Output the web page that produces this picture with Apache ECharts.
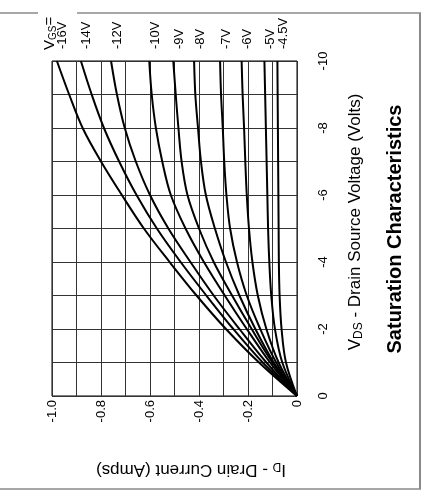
<!DOCTYPE html>
<html>
<head>
<meta charset="utf-8">
<script src="https://cdn.jsdelivr.net/npm/echarts@6/dist/echarts.min.js"></script>
<style>
html,body{margin:0;padding:0;background:#fff;}
#c{width:422px;height:494px;}
</style>
</head>
<body>
<div id="c"></div>
<script>
// Drain-source voltage samples (Volts)
const vds = [0, -1, -2, -3, -4, -5, -6, -7, -8, -9, -10];
// Gate voltage labels
const vgsLabels = ['-16V', '-14V', '-12V', '-10V', '-9V', '-8V', '-7V', '-6V', '-5V', '-4.5V'];
// Drain current (Amps) per gate voltage, at each vds sample
const id16 = [0, -0.155, -0.29, -0.41, -0.52, -0.625, -0.715, -0.80, -0.875, -0.93, -0.98];
const id14 = [0, -0.14, -0.26, -0.37, -0.475, -0.572, -0.655, -0.726, -0.788, -0.838, -0.882];
const id12 = [0, -0.125, -0.235, -0.34, -0.435, -0.525, -0.600, -0.658, -0.703, -0.735, -0.759];
const id10 = [0, -0.11, -0.205, -0.295, -0.38, -0.455, -0.515, -0.550, -0.576, -0.593, -0.603];
const id9 = [0, -0.10, -0.185, -0.265, -0.34, -0.400, -0.447, -0.471, -0.484, -0.495, -0.505];
const id8 = [0, -0.095, -0.17, -0.235, -0.29, -0.335, -0.372, -0.392, -0.404, -0.415, -0.420];
const id7 = [0, -0.085, -0.15, -0.205, -0.245, -0.273, -0.288, -0.297, -0.303, -0.310, -0.314];
const id6 = [0, -0.075, -0.125, -0.16, -0.182, -0.196, -0.205, -0.211, -0.216, -0.222, -0.226];
const id5 = [0, -0.06, -0.09, -0.105, -0.113, -0.118, -0.121, -0.124, -0.127, -0.130, -0.133];
const id45 = [0, -0.045, -0.063, -0.071, -0.074, -0.075, -0.076, -0.077, -0.078, -0.079, -0.080];
// Tick values
const idTicks = [-1.0, -0.8, -0.6, -0.4, -0.2, 0];
const vdsTicks = [0, -2, -4, -6, -8, -10];

const curves = [id16, id14, id12, id10, id9, id8, id7, id6, id5, id45];
const FONT = '"Liberation Sans", Arial, Helvetica, sans-serif';

const chart = echarts.init(document.getElementById('c'));

const series = curves.map((arr, i) => ({
  type: 'line',
  name: vgsLabels[i],
  data: arr.map((v, k) => [v, vds[k]]),
  showSymbol: false,
  smooth: 0.35,
  lineStyle: { color: '#000', width: 2 },
  silent: true,
  animation: false
}));

chart.setOption({
  animation: false,
  grid: { left: 52, right: 125, top: 61, bottom: 98, show: true, borderColor: '#000', borderWidth: 1, backgroundColor: 'transparent' },
  xAxis: {
    type: 'value', min: -1, max: 0, interval: 0.1, position: 'bottom',
    axisLine: { show: false }, axisTick: { show: false },
    splitLine: { show: true, lineStyle: { color: '#333', width: 1 } },
    axisLabel: {
      rotate: 90, margin: 4, fontSize: 13, color: '#000', fontFamily: FONT,
      formatter: v => {
        const r = Math.round(v * 10) / 10;
        if (!idTicks.some(t => Math.abs(t - r) < 1e-6)) return '';
        return r === 0 ? '0' : r.toFixed(1);
      }
    }
  },
  yAxis: {
    type: 'value', min: -10, max: 0, interval: 1, inverse: true, position: 'right',
    axisLine: { show: false }, axisTick: { show: false },
    splitLine: { show: true, lineStyle: { color: '#333', width: 1 } },
    axisLabel: {
      rotate: 90, margin: 20, fontSize: 13, color: '#000', fontFamily: FONT,
      formatter: v => vdsTicks.indexOf(Math.round(v)) >= 0 ? String(Math.round(v)) : ''
    }
  },
  series: series
});

// Curve-end labels placed through the chart's own scale
const endLabels = curves.map((arr, i) => {
  const p = chart.convertToPixel({ gridIndex: 0 }, [arr[arr.length - 1], vds[vds.length - 1]]);
  return {
    type: 'text', x: p[0] + 6, y: p[1] - 12, rotation: Math.PI / 2, silent: true,
    style: { text: vgsLabels[i], font: '13px ' + FONT, fill: '#000', align: 'left', verticalAlign: 'middle' }
  };
});

const frameColor = '#8a8a8a';
chart.setOption({
  graphic: [
    // frame
    { type: 'line', shape: { x1: 0, y1: 13, x2: 38, y2: 13 }, style: { stroke: frameColor, lineWidth: 1.5 }, silent: true },
    { type: 'line', shape: { x1: 77, y1: 13, x2: 421, y2: 13 }, style: { stroke: frameColor, lineWidth: 1.5 }, silent: true },
    { type: 'line', shape: { x1: 420, y1: 13, x2: 420, y2: 489 }, style: { stroke: frameColor, lineWidth: 2 }, silent: true },
    { type: 'line', shape: { x1: 0, y1: 489, x2: 421, y2: 489 }, style: { stroke: frameColor, lineWidth: 1.5 }, silent: true },
    // VGS= label
    {
      type: 'text', x: 50, y: 50, rotation: Math.PI / 2, silent: true,
      style: {
        text: '{v|V}{s|GS}{v|=}', align: 'left', verticalAlign: 'middle', fill: '#000',
        rich: { v: { fontSize: 15, fontFamily: FONT, fill: '#000' }, s: { fontSize: 10, fontFamily: FONT, fill: '#000', padding: [6, 0, 0, 0] } }
      }
    },
    ...endLabels,
    // x axis name (upside down)
    {
      type: 'text', x: 191, y: 470, rotation: Math.PI, silent: true,
      style: {
        text: '{v|I}{s|D}{v| - Drain Current (Amps)}', align: 'center', verticalAlign: 'middle', fill: '#000',
        rich: { v: { fontSize: 17, fontFamily: FONT, fill: '#000' }, s: { fontSize: 12, fontFamily: FONT, fill: '#000', padding: [7, 0, 0, 0] } }
      }
    },
    // y axis name
    {
      type: 'text', x: 355, y: 222, rotation: Math.PI / 2, silent: true,
      style: {
        text: '{v|V}{s|DS}{v| - Drain Source Voltage (Volts)}', align: 'center', verticalAlign: 'middle', fill: '#000',
        rich: { v: { fontSize: 17, fontFamily: FONT, fill: '#000' }, s: { fontSize: 12, fontFamily: FONT, fill: '#000', padding: [7, 0, 0, 0] } }
      }
    },
    // title
    {
      type: 'text', x: 395, y: 229, rotation: Math.PI / 2, silent: true,
      style: { text: 'Saturation Characteristics', font: 'bold 20px ' + FONT, fill: '#000', align: 'center', verticalAlign: 'middle' }
    }
  ]
});
</script>
</body>
</html>
